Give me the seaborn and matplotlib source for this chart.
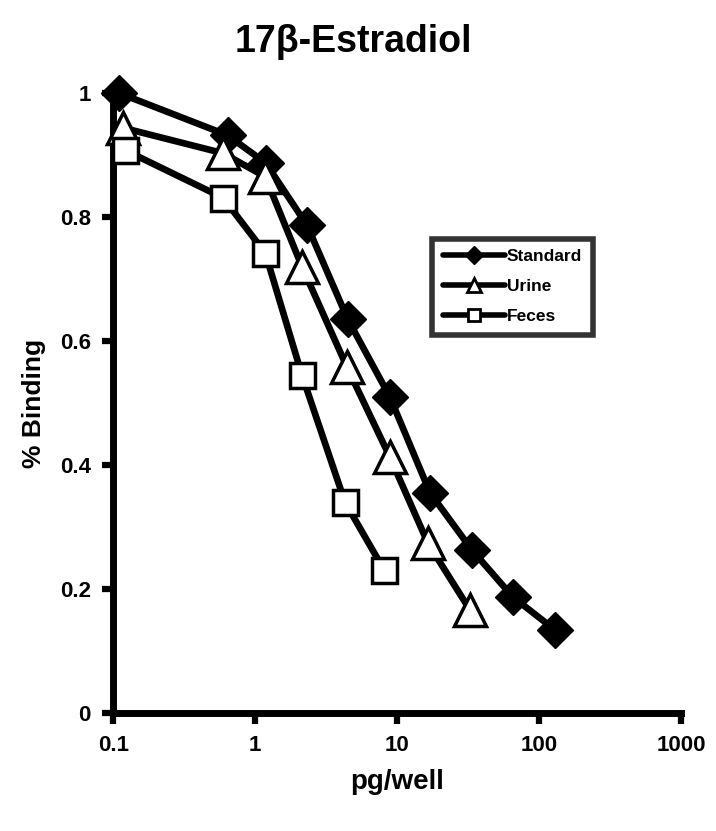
import matplotlib
matplotlib.use("Agg")
import matplotlib.pyplot as plt
from matplotlib.lines import Line2D
import seaborn as sns

sns.set_style("white")
plt.rcParams['font.family'] = ['Liberation Sans', 'DejaVu Sans']
plt.rcParams['font.weight'] = 'bold'
plt.rcParams['text.color'] = 'black'
plt.rcParams['axes.labelcolor'] = 'black'
plt.rcParams['xtick.color'] = 'black'
plt.rcParams['ytick.color'] = 'black'

# Data
std_x = [0.11, 0.64, 1.19, 2.32, 4.5, 8.9, 17.1, 33.7, 65.6, 129.7]
std_y = [1.0, 0.932, 0.887, 0.787, 0.635, 0.51, 0.355, 0.263, 0.187, 0.134]

urine_x = [0.117, 0.595, 1.18, 2.14, 4.44, 8.9, 16.5, 32.7]
urine_y = [0.944, 0.903, 0.865, 0.72, 0.558, 0.413, 0.274, 0.166]

feces_x = [0.121, 0.595, 1.18, 2.14, 4.3, 8.1]
feces_y = [0.908, 0.831, 0.742, 0.545, 0.34, 0.231]

series_names = ["Standard", "Urine", "Feces"]
x_ticks = [0.1, 1, 10, 100, 1000]
x_tick_labels = ["0.1", "1", "10", "100", "1000"]
y_ticks = [0, 0.2, 0.4, 0.6, 0.8, 1.0]
y_tick_labels = ["0", "0.2", "0.4", "0.6", "0.8", "1"]

fig = plt.figure(figsize=(7.16, 8.31), dpi=100)
ax = fig.add_axes([0.158, 0.142, 0.793, 0.746])

lw = 4.8
sns.lineplot(x=std_x, y=std_y, ax=ax, color='black', lw=lw, marker='D',
             markersize=18, markerfacecolor='black', markeredgecolor='black',
             markeredgewidth=1, clip_on=False, zorder=3)
sns.lineplot(x=urine_x, y=urine_y, ax=ax, color='black', lw=lw, marker='^',
             markersize=23, markerfacecolor='white', markeredgecolor='black',
             markeredgewidth=2.5, clip_on=False, zorder=4)
sns.lineplot(x=feces_x, y=feces_y, ax=ax, color='black', lw=lw, marker='s',
             markersize=18, markerfacecolor='white', markeredgecolor='black',
             markeredgewidth=2.5, clip_on=False, zorder=5)

ax.set_xscale('log')
ax.set_xlim(0.1, 1000)
ax.set_ylim(0, 1.0)
ax.set_xticks(x_ticks)
ax.set_xticklabels(x_tick_labels)
ax.minorticks_off()
ax.set_yticks(y_ticks)
ax.set_yticklabels(y_tick_labels)

for s in ['top', 'right']:
    ax.spines[s].set_visible(False)
for s in ['left', 'bottom']:
    ax.spines[s].set_linewidth(5)
    ax.spines[s].set_color('black')

ax.tick_params(axis='both', which='major', direction='out', length=8, width=4.5,
               color='black', labelcolor='black', labelsize=16,
               bottom=True, left=True)
ax.tick_params(axis='x', pad=8)
ax.tick_params(axis='y', pad=8)
for lab in ax.get_xticklabels() + ax.get_yticklabels():
    lab.set_fontweight('bold')

ax.set_xlabel("pg/well", fontsize=20, fontweight='bold', labelpad=9,
              color='black')
ax.set_ylabel("% Binding", fontsize=19, fontweight='bold', labelpad=10,
              color='black')
fig.text(0.493, 0.949, "17β-Estradiol", ha='center', va='center',
         fontsize=27, fontweight='bold', color='black')

handles = [
    Line2D([], [], color='black', lw=4, marker='D', markersize=9,
           markerfacecolor='black'),
    Line2D([], [], color='black', lw=4, marker='^', markersize=10,
           markerfacecolor='white', markeredgewidth=2),
    Line2D([], [], color='black', lw=4, marker='s', markersize=9,
           markerfacecolor='white', markeredgewidth=2),
]
leg = ax.legend(handles, series_names, loc='upper left',
                bbox_to_anchor=(0.562, 0.765), frameon=True, fancybox=False,
                edgecolor='black', handlelength=3.6, handletextpad=0.1,
                labelspacing=0.85, borderpad=0.6, borderaxespad=0,
                prop={'weight': 'bold', 'size': 12.5})
leg.get_frame().set_linewidth(4)
for t in leg.get_texts():
    t.set_color('black')

fig.savefig("out.png", dpi=100)
